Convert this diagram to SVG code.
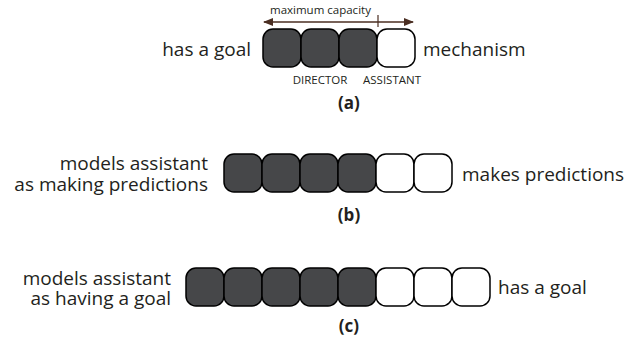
<svg xmlns="http://www.w3.org/2000/svg" width="630" height="340" viewBox="0 0 630 340">
<style>
.dk{fill:#464749;stroke:#000;stroke-width:1.5}
.wt{fill:#fff;stroke:#000;stroke-width:1.5}
.lbl{font-family:"Open Sans",sans-serif;font-size:19px;fill:#231f20}
.sm{font-family:"Open Sans",sans-serif;font-size:11.5px;fill:#231f20}
.cap{font-family:"Open Sans",sans-serif;font-size:17px;font-weight:bold;fill:#231f20;text-anchor:middle}
</style>
<defs>
<marker id="ah" viewBox="0 0 10 10" refX="9" refY="5" markerWidth="7" markerHeight="7" orient="auto-start-reverse">
<path d="M0,1 L10,5 L0,9 z" fill="#4a2e22"/>
</marker>
</defs>
<g id="connectors">
<line x1="264" y1="22" x2="413" y2="22" stroke="#4a2e22" stroke-width="1.5" marker-start="url(#ah)" marker-end="url(#ah)"/>
<line x1="378" y1="15" x2="378" y2="27" stroke="#4a2e22" stroke-width="1.2"/>
</g>
<g id="row-a">
<text class="sm" x="270" y="14">maximum capacity</text>
<rect class="dk" x="263" y="29" width="38" height="38" rx="10"/>
<rect class="dk" x="301" y="29" width="38" height="38" rx="10"/>
<rect class="dk" x="339" y="29" width="38" height="38" rx="10"/>
<rect class="wt" x="377" y="29" width="38" height="38" rx="10"/>
<text class="lbl" x="251" y="56" text-anchor="end">has a goal</text>
<text class="lbl" x="423" y="56">mechanism</text>
<text class="sm" x="320" y="84" text-anchor="middle">DIRECTOR</text>
<text class="sm" x="392" y="84" text-anchor="middle">ASSISTANT</text>
<text class="cap" x="349" y="109">(a)</text>
</g>
<g id="row-b">
<rect class="dk" x="224" y="154" width="38" height="38" rx="10"/>
<rect class="dk" x="262" y="154" width="38" height="38" rx="10"/>
<rect class="dk" x="300" y="154" width="38" height="38" rx="10"/>
<rect class="dk" x="338" y="154" width="38" height="38" rx="10"/>
<rect class="wt" x="376" y="154" width="38" height="38" rx="10"/>
<rect class="wt" x="414" y="154" width="38" height="38" rx="10"/>
<text class="lbl" x="208" y="170" text-anchor="end">models assistant</text>
<text class="lbl" x="208" y="191" text-anchor="end">as making predictions</text>
<text class="lbl" x="462" y="181">makes predictions</text>
<text class="cap" x="349" y="221">(b)</text>
</g>
<g id="row-c">
<rect class="dk" x="186" y="268" width="38" height="38" rx="10"/>
<rect class="dk" x="224" y="268" width="38" height="38" rx="10"/>
<rect class="dk" x="262" y="268" width="38" height="38" rx="10"/>
<rect class="dk" x="300" y="268" width="38" height="38" rx="10"/>
<rect class="dk" x="338" y="268" width="38" height="38" rx="10"/>
<rect class="wt" x="376" y="268" width="38" height="38" rx="10"/>
<rect class="wt" x="414" y="268" width="38" height="38" rx="10"/>
<rect class="wt" x="452" y="268" width="38" height="38" rx="10"/>
<text class="lbl" x="171" y="285" text-anchor="end">models assistant</text>
<text class="lbl" x="171" y="305" text-anchor="end">as having a goal</text>
<text class="lbl" x="498" y="294">has a goal</text>
<text class="cap" x="349" y="332">(c)</text>
</g>
</svg>
